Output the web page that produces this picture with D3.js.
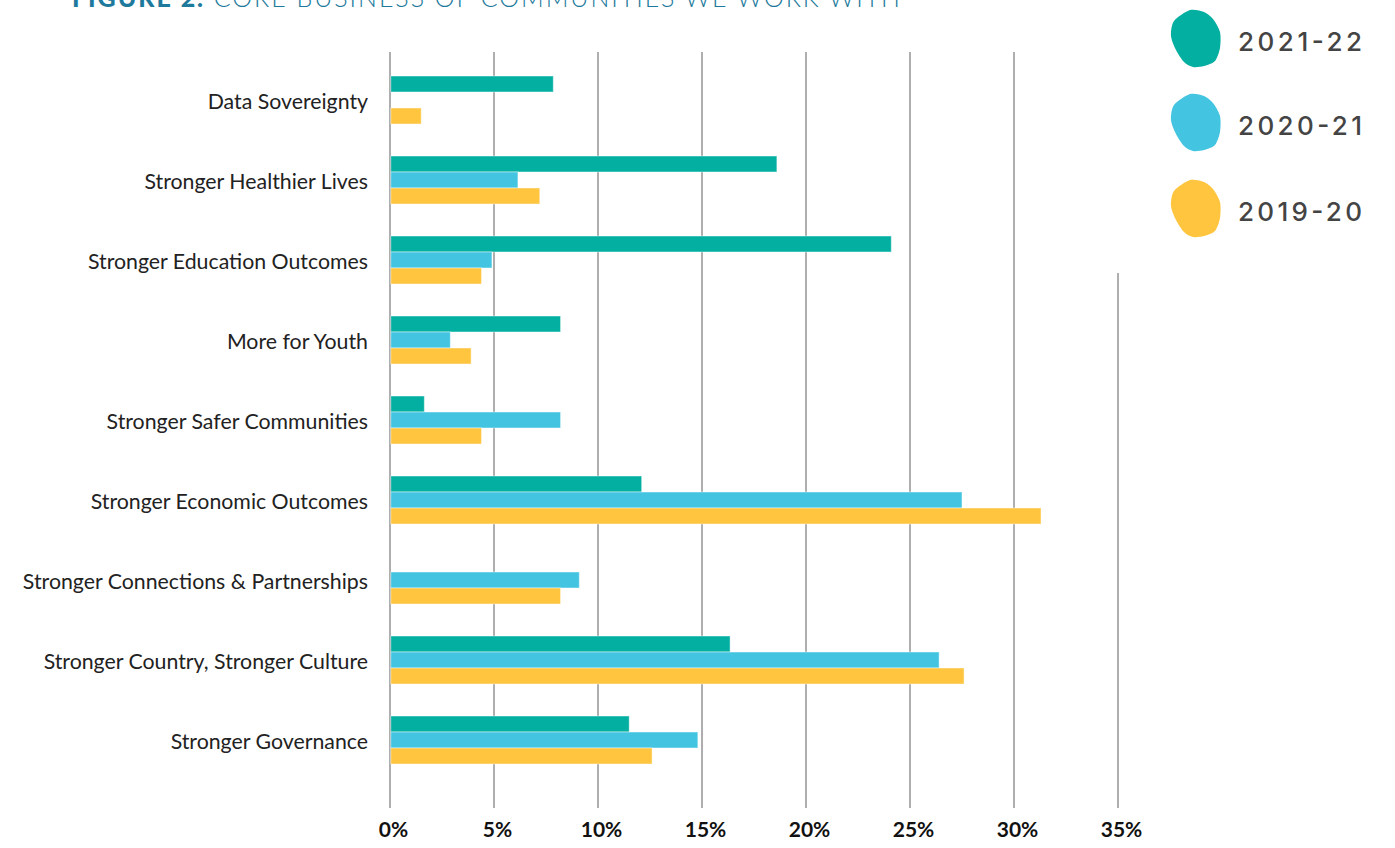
<!DOCTYPE html>
<html>
<head>
<meta charset="utf-8">
<script src="https://cdn.jsdelivr.net/npm/d3@7"></script>
<style>
  html, body { margin: 0; padding: 0; background: #fff; }
  svg { display: block; }
</style>
</head>
<body>
<svg id="chart" width="1395" height="848"></svg>
<script>
// Core business areas, top to bottom
const categories = [
  "Data Sovereignty",
  "Stronger Healthier Lives",
  "Stronger Education Outcomes",
  "More for Youth",
  "Stronger Safer Communities",
  "Stronger Economic Outcomes",
  "Stronger Connections & Partnerships",
  "Stronger Country, Stronger Culture",
  "Stronger Governance"
];

const seriesNames = ["2021-22", "2020-21", "2019-20"];

// Share of communities (%) per year
const values2021_22 = [7.85, 18.6, 24.1, 8.2, 1.65, 12.1, 0, 16.35, 11.5];
const values2020_21 = [0, 6.15, 4.9, 2.9, 8.2, 27.5, 9.1, 26.4, 14.8];
const values2019_20 = [1.5, 7.2, 4.4, 3.9, 4.4, 31.3, 8.2, 27.6, 12.6];

const tickValues = [0, 5, 10, 15, 20, 25, 30, 35];

const colors = ["#03AFA0", "#43C4E0", "#FFC53F"];
const seriesValues = [values2021_22, values2020_21, values2019_20];

const svg = d3.select("#chart");

// Title (sits partly above the top edge)
const title = svg.append("text")
  .attr("x", 72)
  .attr("y", 7)
  .attr("fill", "#1d7a9c")
  .style("font-family", "Lato, sans-serif")
  .style("font-size", "25px")
  .attr("textLength", 828)
  .attr("lengthAdjust", "spacing");
title.append("tspan").style("font-weight", "900").text("FIGURE 2.");
title.append("tspan").style("font-weight", "300").text(" CORE BUSINESS OF COMMUNITIES WE WORK WITH");

// Scales
const x = d3.scaleLinear().domain([0, 35]).range([390, 1118]);
const y = d3.scaleBand().domain(categories).range([60, 780]).padding(0);
const inner = d3.scaleBand().domain(seriesNames).range([0, 48]);

// Gridlines
svg.append("g")
  .selectAll("line")
  .data(tickValues)
  .join("line")
  .attr("x1", d => x(d))
  .attr("x2", d => x(d))
  .attr("y1", d => d === 35 ? 273 : 52)
  .attr("y2", 808)
  .attr("stroke", "#9a9a9a")
  .attr("stroke-width", 1.6);

// Bars
seriesNames.forEach((name, si) => {
  svg.append("g")
    .selectAll("rect")
    .data(categories.map((c, i) => ({ c, v: seriesValues[si][i] })).filter(d => d.v > 0))
    .join("rect")
    .attr("x", x(0) + 0.8)
    .attr("y", d => y(d.c) + (y.bandwidth() - 48) / 2 + inner(name))
    .attr("width", d => x(d.v) - x(0) - 0.8)
    .attr("height", inner.bandwidth())
    .attr("fill", colors[si])
    .attr("stroke", "rgba(255,255,255,0.45)")
    .attr("stroke-width", 1);
});

// Category labels
svg.append("g")
  .selectAll("text")
  .data(categories)
  .join("text")
  .attr("x", 368)
  .attr("y", d => y(d) + y.bandwidth() / 2 + 2)
  .attr("dy", "0.35em")
  .attr("text-anchor", "end")
  .attr("fill", "#222")
  .style("font-family", "Lato, sans-serif")
  .style("font-size", "21.3px")
  .text(d => d);

// X axis labels
const xAxis = d3.axisBottom(x)
  .tickValues(tickValues)
  .tickFormat(d => d + "%")
  .tickSize(0)
  .tickPadding(0);
const axisG = svg.append("g")
  .attr("transform", "translate(3,822)")
  .call(xAxis);
axisG.select(".domain").remove();
axisG.selectAll("text")
  .attr("fill", "#111")
  .style("font-family", "Lato, sans-serif")
  .style("font-size", "21px")
  .style("font-weight", "700");

// Legend with hand-drawn style blobs
const blobPts = [[-6,-28],[8,-26],[17,-19],[24,-6],[24,10],[19,23],[8,28],[-3,29],[-12,24],[-20,12],[-25,-2],[-22,-17]];
const blob = d3.line().curve(d3.curveCardinalClosed.tension(0.2));
const legendY = [38, 122, 208];
const legend = svg.append("g")
  .selectAll("g")
  .data(seriesNames)
  .join("g")
  .attr("transform", (d, i) => `translate(1196,${legendY[i]})`);
legend.append("path")
  .attr("d", blob(blobPts))
  .attr("fill", (d, i) => colors[i]);
legend.append("text")
  .attr("x", 42)
  .attr("y", 13)
  .attr("fill", "#444")
  .style("font-family", "Inter, sans-serif")
  .style("font-size", "26px")
  .style("font-weight", "500")
  .attr("textLength", 124)
  .attr("lengthAdjust", "spacing")
  .text(d => d);
</script>
</body>
</html>
